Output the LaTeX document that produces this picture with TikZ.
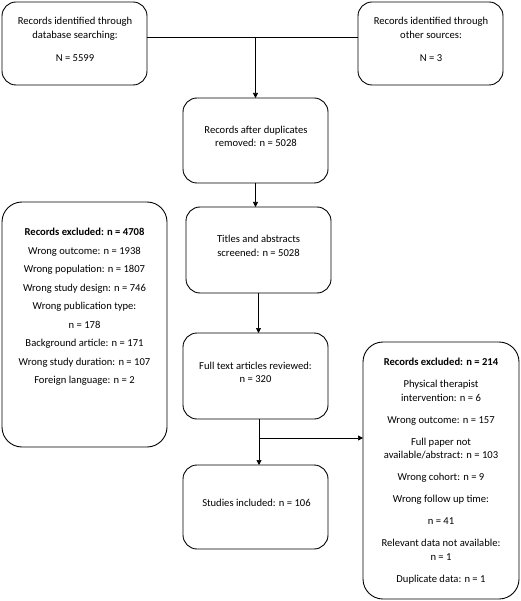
\documentclass[tikz,border=0pt]{standalone}
\usepackage{fontspec}
\setmainfont{Carlito}
\usetikzlibrary{arrows.meta}
\begin{document}
\begin{tikzpicture}[x=1pt,y=-1pt,
  box/.style={draw=black, line width=0.9pt, rounded corners=14pt, inner sep=0pt, outer sep=0pt},
  txt/.style={align=center, inner sep=0pt, font=\fontsize{10.6}{13.5}\selectfont},
  conn/.style={draw=black, line width=0.7pt},
  arr/.style={conn, -{Triangle[length=5pt,width=5pt]}}]
\useasboundingbox (0,0) rectangle (520,601);
% boxes
\node[box, minimum width=145pt, minimum height=83pt] (tl) at (74.5,43.5) {};
\node[box, minimum width=145pt, minimum height=83pt] (tr) at (430.5,43.5) {};
\node[box, minimum width=145pt, minimum height=85pt] (dup) at (255.5,140.5) {};
\node[box, minimum width=145pt, minimum height=86pt] (tit) at (258.5,250) {};
\node[box, minimum width=145pt, minimum height=86pt] (full) at (255.5,376) {};
\node[box, minimum width=145pt, minimum height=84pt] (stud) at (255.5,507) {};
\node[box, rounded corners=20pt, minimum width=165pt, minimum height=245pt] (left) at (84.5,324.5) {};
\node[box, rounded corners=20pt, minimum width=156pt, minimum height=257pt] (right) at (441,470.5) {};
% texts
\node[txt] (tlt) at (75,39.5) {Records identified through\\database searching:\\[9.5pt]N = 5599};
\node[txt] (trt) at (431,39.5) {Records identified through\\other sources:\\[9.5pt]N = 3};
\node[txt] (dupt) at (256,136.5) {Records after duplicates\\removed: n = 5028};
\node[txt] (titt) at (258.5,246) {Titles and abstracts\\screened: n = 5028};
\node[txt] (fullt) at (255.5,372.5) {Full text articles reviewed:\\n = 320};
\node[txt] (studt) at (256.5,503) {Studies included: n = 106};
\node[txt] (leftt) at (84.5,307) {\textbf{Records excluded: n = 4708}\\[5pt]
  Wrong outcome: n = 1938\\[5pt]
  Wrong population: n = 1807\\[5pt]
  Wrong study design: n = 746\\[5pt]
  Wrong publication type:\\[5pt]
  n = 178\\[5pt]
  Background article: n = 171\\[5pt]
  Wrong study duration: n = 107\\[5pt]
  Foreign language: n = 2};
\node[txt] (rightt) at (441,471) {\textbf{Records excluded: n = 214}\\[8.5pt]
  Physical therapist\\intervention: n = 6\\[8.5pt]
  Wrong outcome: n = 157\\[8.5pt]
  Full paper not\\available/abstract: n = 103\\[8.5pt]
  Wrong cohort: n = 9\\[8.5pt]
  Wrong follow up time:\\[8.5pt]
  n = 41\\[8.5pt]
  Relevant data not available:\\n = 1\\[8.5pt]
  Duplicate data: n = 1};
% connectors
\coordinate (j) at (255.5,37);
\coordinate (b) at (259,438);
\draw[conn] (tl.east |- j) -- (tr.west |- j);
\draw[arr] (j) -- (dup.north);
\draw[arr] (dup.south) -- (dup.south |- tit.north);
\draw[arr] (tit.south) -- (tit.south |- full.north);
\draw[conn] (full.south -| b) -- (b);
\draw[arr] (b) -- (b |- stud.north);
\draw[arr] (b) -- (right.west |- b);
\end{tikzpicture}
\end{document}
